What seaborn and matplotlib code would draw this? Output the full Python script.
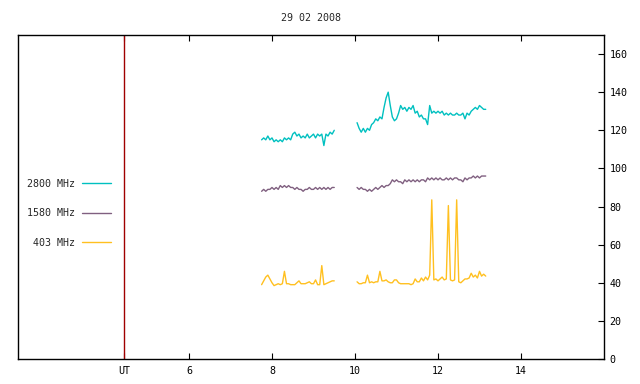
import numpy as np
import pandas as pd
import matplotlib
matplotlib.use("Agg")
import matplotlib.pyplot as plt
import seaborn as sns
from matplotlib.lines import Line2D

# ------------------------------------------------------------------
# dados (hora UT, fluxo) - duas janelas de observação
# ------------------------------------------------------------------
hours_seg1 = [7.75, 7.80, 7.85, 7.90, 7.95, 8.00, 8.05, 8.10, 8.15, 8.20, 8.25, 8.30,
              8.35, 8.40, 8.45, 8.50, 8.55, 8.60, 8.65, 8.70, 8.75, 8.80, 8.85, 8.90,
              8.95, 9.00, 9.05, 9.10, 9.15, 9.20, 9.25, 9.30, 9.35, 9.40, 9.45, 9.50]
hours_seg2 = [10.05, 10.10, 10.15, 10.20, 10.25, 10.30, 10.35, 10.40, 10.45, 10.50,
              10.55, 10.60, 10.65, 10.70, 10.75, 10.80, 10.85, 10.90, 10.95, 11.00,
              11.05, 11.10, 11.15, 11.20, 11.25, 11.30, 11.35, 11.40, 11.45, 11.50,
              11.55, 11.60, 11.65, 11.70, 11.75, 11.80, 11.85, 11.90, 11.95, 12.00,
              12.05, 12.10, 12.15, 12.20, 12.25, 12.30, 12.35, 12.40, 12.45, 12.50,
              12.55, 12.60, 12.65, 12.70, 12.75, 12.80, 12.85, 12.90, 12.95, 13.00,
              13.05, 13.10, 13.15]

mhz2800_seg1 = [115, 116, 115, 117, 115, 116, 114, 115, 114, 115, 114, 116,
                115, 116, 115, 118, 119, 117, 118, 116, 117, 116, 118, 116,
                117, 118, 116, 118, 117, 118, 112, 118, 117, 119, 118, 120]
mhz2800_seg2 = [124, 121, 119, 121, 119, 121, 120, 123, 124, 126,
                125, 127, 126, 132, 137, 140, 133, 127, 125, 126,
                129, 133, 131, 132, 130, 132, 131, 133, 129, 130,
                127, 128, 126, 126, 123, 133, 129, 130, 129, 130,
                129, 130, 128, 129, 128, 129, 128, 128, 129, 128,
                128, 129, 126, 129, 128, 130, 131, 132, 131, 133,
                132, 131, 131]

mhz1580_seg1 = [88, 89, 88, 89, 89, 90, 89, 90, 89, 91, 90, 91,
                90, 91, 90, 90, 89, 90, 89, 89, 88, 89, 89, 90,
                89, 89, 90, 89, 90, 89, 90, 89, 90, 89, 90, 90]
mhz1580_seg2 = [90, 89, 90, 89, 89, 88, 89, 88, 89, 90,
                89, 90, 91, 90, 91, 91, 92, 94, 93, 94,
                93, 93, 92, 94, 93, 94, 93, 94, 93, 94,
                93, 94, 94, 93, 95, 94, 95, 94, 95, 94,
                95, 94, 94, 95, 94, 95, 94, 95, 95, 94,
                94, 93, 95, 94, 95, 95, 96, 95, 96, 95,
                96, 96, 96]

mhz403_seg1 = [39, 41, 43, 44, 42, 40, 38.5, 39, 39.5, 39, 39.5, 46,
               39.5, 39.5, 39, 39, 39, 40, 41, 39.5, 39.5, 39.5, 40, 40.5,
               39.5, 39.5, 41.5, 39, 39, 49, 39, 39.5, 40, 40.5, 41, 41]
mhz403_seg2 = [40.5, 39.5, 39.5, 40, 40, 44, 40, 40.5, 40, 40.5,
               40.5, 46, 41, 41, 41.5, 40.5, 40, 40, 41.5, 41.5,
               40, 39.5, 39.5, 39.5, 39.5, 39.5, 39, 39.5, 42, 40.5,
               40.5, 42.5, 41, 43, 41.5, 44, 83.5, 41.5, 42, 41,
               42, 43, 41.5, 42, 80.5, 41.5, 41, 41.5, 83.5, 40.5,
               40, 41, 42, 42, 42.5, 45, 43, 44, 42.5, 46,
               43.5, 44.5, 43.5]

bands = ['2800 MHz', '1580 MHz', '403 MHz']
cores = {'2800 MHz': '#00c0c0', '1580 MHz': '#806080', '403 MHz': '#ffc020'}
ut_hora = 4.43
xticks = [ut_hora, 6, 8, 10, 12, 14]
xtick_labels = ['UT', '6', '8', '10', '12', '14']
yticks = [0, 20, 40, 60, 80, 100, 120, 140, 160]
titulo = '29 02 2008'

# monta tabela longa
series = {
    '2800 MHz': (mhz2800_seg1, mhz2800_seg2),
    '1580 MHz': (mhz1580_seg1, mhz1580_seg2),
    '403 MHz': (mhz403_seg1, mhz403_seg2),
}
linhas = []
for banda, (s1, s2) in series.items():
    for h, v in zip(hours_seg1, s1):
        linhas.append((banda, 1, h, v))
    for h, v in zip(hours_seg2, s2):
        linhas.append((banda, 2, h, v))
df = pd.DataFrame(linhas, columns=['banda', 'segmento', 'hora', 'fluxo'])

# ------------------------------------------------------------------
# figura
# ------------------------------------------------------------------
sns.set_style('white')
plt.rcParams['font.family'] = ['DejaVu Sans Mono']
FS = 7.2

fig = plt.figure(figsize=(6.4, 3.84), dpi=100)
ax = fig.add_axes([18 / 640, 25 / 384, 586 / 640, 324 / 384])

sns.lineplot(data=df, x='hora', y='fluxo', hue='banda', units='segmento',
             estimator=None, palette=cores, hue_order=bands[::-1],
             linewidth=1.0, legend=False, ax=ax)

ax.axvline(ut_hora, color='#a00000', linewidth=1.0)

ax.set_xlim(1.88, 16.0)
ax.set_ylim(0, 170)
ax.set_xticks(xticks)
ax.set_xticklabels(xtick_labels)
ax.set_yticks(yticks)
ax.yaxis.tick_right()
ax.tick_params(axis='x', direction='in', top=True, bottom=True, length=4,
               width=0.8, labelsize=FS, pad=5, colors='black')
ax.tick_params(axis='y', direction='in', right=True, left=False, length=4,
               width=0.8, labelsize=FS, pad=4, colors='black')
ax.set_xlabel('')
ax.set_ylabel('')
for sp in ax.spines.values():
    sp.set_visible(True)
    sp.set_color('black')
    sp.set_linewidth(1.0)

fig.text(311 / 640, 1 - 18 / 384, titulo, ha='center', va='center', fontsize=FS)

# legenda à esquerda, texto antes da linha (estilo gnuplot)
handles = [Line2D([0], [0], color=cores[b], linewidth=1.0) for b in bands]
ax.legend(handles, bands, loc='center right', bbox_to_anchor=(111 / 640, 1 - 213.3 / 384),
          bbox_transform=fig.transFigure, frameon=False, markerfirst=False,
          fontsize=FS, handlelength=2.9, handletextpad=0.7, labelspacing=1.95,
          borderpad=0, borderaxespad=0)

fig.savefig('out.png', dpi=100)
